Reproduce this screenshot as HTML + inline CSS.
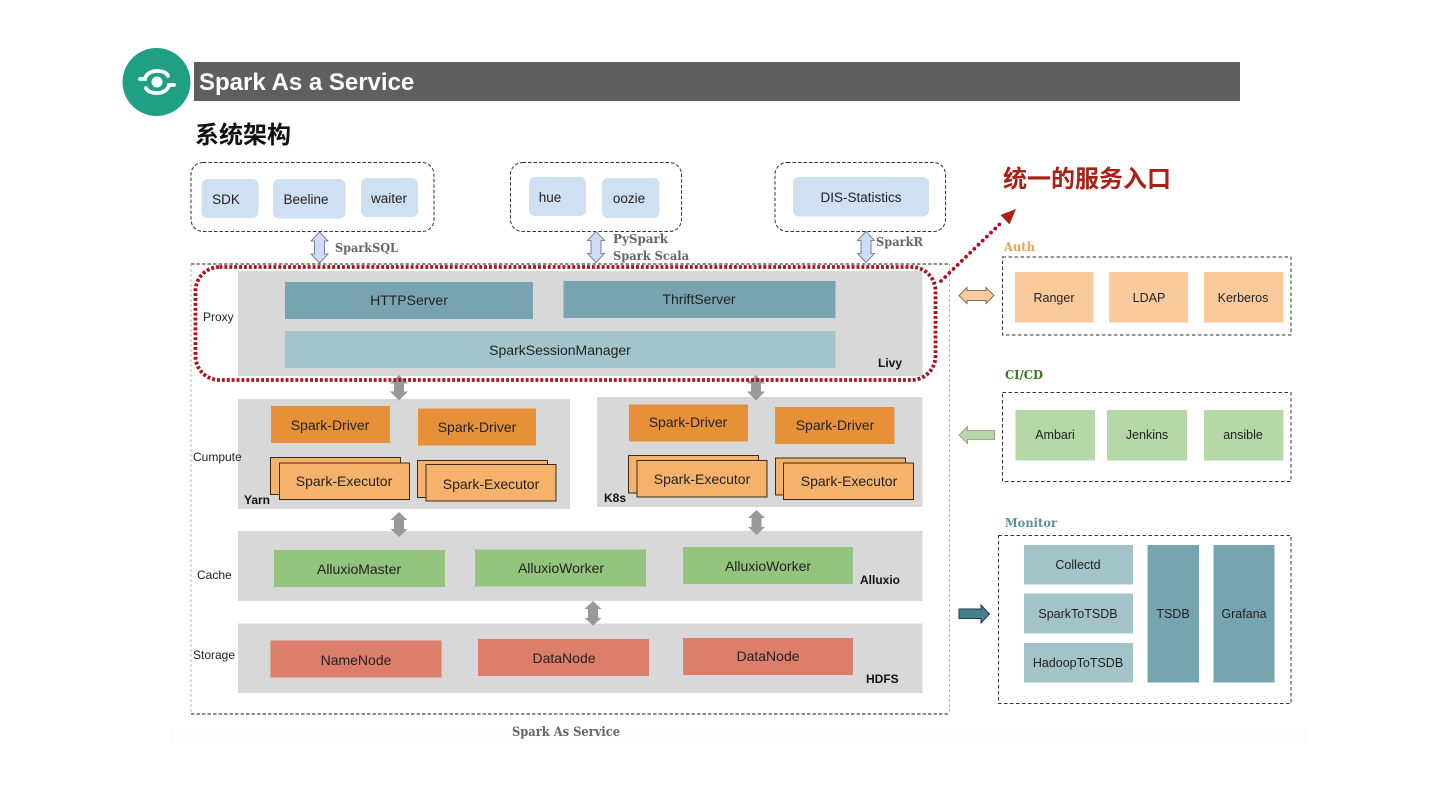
<!DOCTYPE html>
<html><head><meta charset="utf-8"><style>
html,body{margin:0;padding:0;background:#fff;width:1440px;height:810px;overflow:hidden}
svg{display:block;filter:blur(.3px)}
text{font-family:"Liberation Sans","Noto Sans CJK SC",sans-serif;fill:#222;text-anchor:middle}
.s{font-size:13.5px}.m{font-size:14px}.xs{font-size:12.5px}
.l{font-size:12px;text-anchor:start}
.b{font-size:12px;font-weight:bold;text-anchor:start;fill:#111}
.sl{font-family:"DejaVu Serif","Liberation Serif",serif;font-weight:bold;font-size:12.5px;text-anchor:start;fill:#666}
</style></head><body>
<svg width="1440" height="810" viewBox="0 0 1440 810" xmlns="http://www.w3.org/2000/svg">
<rect x="170" y="726" width="1138" height="20" fill="#fdfdfd"/>
<rect x="194" y="62" width="1046" height="39" fill="#5f5f5f"/>
<circle cx="156.500" cy="82" r="34" fill="#1fa085"/>
<circle cx="157" cy="82" r="5.500" fill="#fff"/>
<path d="M140 79h5c1-5 6-8 12-8s10 2 11 5M174 85h-5c-1 5-6 8-12 8s-10-2-11-5" fill="none" stroke="#fff" stroke-width="3.800" stroke-linecap="round"/>
<text x="199" y="90" style="font-size:24px;font-weight:bold;fill:#fff;text-anchor:start">Spark As a Service</text>
<text x="195" y="143" style="font-size:24px;font-weight:bold;fill:#111;text-anchor:start">系统架构</text>

<g fill="none" stroke="#333" stroke-width="1" stroke-dasharray="3.500 2">
<rect x="191" y="162.500" width="243" height="69" rx="12"/>
<rect x="510.500" y="162.500" width="171" height="69" rx="12"/>
<rect x="775" y="162.500" width="170.500" height="69" rx="12"/>
</g>
<g fill="#cfe0f3">
<rect x="201.500" y="179" width="57" height="39" rx="6"/>
<rect x="273" y="179" width="72.500" height="39.500" rx="6"/>
<rect x="361" y="178" width="57" height="39" rx="6"/>
<rect x="529" y="177" width="57" height="39" rx="6"/>
<rect x="602" y="178" width="57.500" height="40" rx="6"/>
<rect x="793" y="177" width="136" height="39.500" rx="6"/>
</g>
<text class="s" x="226" y="204">SDK</text>
<text class="s" x="306" y="204">Beeline</text>
<text class="s" x="389" y="203">waiter</text>
<text class="s" x="550" y="202">hue</text>
<text class="s" x="629" y="203">oozie</text>
<text class="s" x="861" y="202">DIS-Statistics</text>

<g fill="#cfdcf3" stroke="#5c6b85" stroke-width="0.800">
<path d="M319.500 232l8.500 9h-3.500v13h3.500l-8.500 9-8.500-9h3.500v-13h-3.500z"/>
<path d="M596 231.500l8.500 9h-3.500v13h3.500l-8.500 9-8.500-9h3.500v-13h-3.500z"/>
<path d="M866 231.500l8.500 9h-3.500v13h3.500l-8.500 9-8.500-9h3.500v-13h-3.500z"/>
</g>
<text class="sl" x="335" y="252" textLength="63" lengthAdjust="spacingAndGlyphs">SparkSQL</text>
<text class="sl" x="613" y="243" textLength="55" lengthAdjust="spacingAndGlyphs">PySpark</text>
<text class="sl" x="613" y="260" textLength="76" lengthAdjust="spacingAndGlyphs">Spark Scala</text>
<text class="sl" x="876" y="246" textLength="47" lengthAdjust="spacingAndGlyphs">SparkR</text>

<g fill="#d8d8d8">
<rect x="238" y="271" width="684.500" height="105"/>
<rect x="238" y="399" width="332" height="110"/>
<rect x="597" y="397" width="325.500" height="110"/>
<rect x="238" y="531" width="684.500" height="70"/>
<rect x="238" y="623.500" width="684.500" height="69.500"/>
</g>
<path d="M191 264H949M191 714H949" stroke="#222" stroke-width="1" stroke-dasharray="3.500 2" fill="none"/>
<path d="M191 264V714M949.500 264V714" stroke="#bbb" stroke-width="1" stroke-dasharray="3 2" fill="none"/>

<rect x="285" y="282" width="248" height="37" fill="#78a4b1"/>
<rect x="563.500" y="281" width="272" height="37" fill="#78a4b1"/>
<rect x="285" y="331" width="550.500" height="37" fill="#a2c4ca"/>
<text class="m" x="409" y="305">HTTPServer</text>
<text class="m" x="699" y="304">ThriftServer</text>
<text class="m" x="560" y="355">SparkSessionManager</text>
<text class="l" x="203" y="321">Proxy</text>
<text class="b" x="878" y="367">Livy</text>

<g fill="#e69138">
<rect x="271" y="406" width="119" height="37"/>
<rect x="418" y="408.500" width="118" height="37"/>
<rect x="629" y="404.500" width="119" height="37"/>
<rect x="775" y="407" width="119.500" height="37"/>
</g>
<g fill="#f6b26b" stroke="#3a2c1a" stroke-width="1">
<rect x="270.500" y="457.500" width="130" height="37"/>
<rect x="279.500" y="463" width="130" height="36.500"/>
<rect x="417.500" y="460.500" width="130" height="37"/>
<rect x="426" y="464.500" width="130" height="36.500"/>
<rect x="628.500" y="455.500" width="130" height="37.500"/>
<rect x="637" y="460.500" width="130" height="36.500"/>
<rect x="775.500" y="458" width="130" height="37"/>
<rect x="783.500" y="463" width="130" height="36.500"/>
</g>
<text class="m" x="330" y="430">Spark-Driver</text>
<text class="m" x="477" y="432">Spark-Driver</text>
<text class="m" x="688" y="427">Spark-Driver</text>
<text class="m" x="835" y="430">Spark-Driver</text>
<text class="m" x="344" y="486">Spark-Executor</text>
<text class="m" x="491" y="489">Spark-Executor</text>
<text class="m" x="702" y="484">Spark-Executor</text>
<text class="m" x="849" y="486">Spark-Executor</text>
<text class="l" x="193" y="461">Cumpute</text>
<text class="b" x="244" y="504">Yarn</text>
<text class="b" x="604" y="502">K8s</text>

<g fill="#93c47d">
<rect x="274" y="550" width="171" height="37"/>
<rect x="475" y="549.500" width="171" height="37"/>
<rect x="683" y="547" width="170" height="37"/>
</g>
<text class="m" x="359" y="574">AlluxioMaster</text>
<text class="m" x="561" y="573">AlluxioWorker</text>
<text class="m" x="768" y="571">AlluxioWorker</text>
<text class="l" x="197" y="579">Cache</text>
<text class="b" x="860" y="584">Alluxio</text>

<g fill="#dd7e6b">
<rect x="270.500" y="640.500" width="171" height="37"/>
<rect x="478" y="639" width="171" height="37"/>
<rect x="683" y="638" width="170" height="37"/>
</g>
<text class="m" x="356" y="665">NameNode</text>
<text class="m" x="564" y="663">DataNode</text>
<text class="m" x="768" y="661">DataNode</text>
<text class="l" x="193" y="659">Storage</text>
<text class="b" x="866" y="683">HDFS</text>

<g fill="#999">
<path d="M399 375l9 8.500h-4v8h4l-9 9-9-9h4v-8h-4z"/>
<path d="M756 375l9 8.500h-4v8h4l-9 9-9-9h4v-8h-4z"/>
<path d="M399 512l8.500 8h-3.500v9h3.500l-8.500 8-8.500-8h3.500v-9h-3.500z"/>
<path d="M756.500 510l8.500 8h-3.500v9h3.500l-8.500 8-8.500-8h3.500v-9h-3.500z"/>
<path d="M593 601l8.500 8h-3.500v9h3.500l-8.500 7.500-8.500-7.500h3.500v-9h-3.500z"/>
</g>

<rect x="195.500" y="267" width="740" height="113" rx="24" fill="none" stroke="#b0121c" stroke-width="3.800" stroke-dasharray="2.900 2"/>
<path d="M941 281L1003 221" fill="none" stroke="#b0121c" stroke-width="3.800" stroke-linecap="round" stroke-dasharray="0 5.800"/>
<path d="M1016 209l-6.500 15.500-9-9.500z" fill="#b01d12"/>
<text x="1003" y="187" style="font-size:24px;font-weight:bold;fill:#a82016;text-anchor:start">统一的服务入口</text>

<text class="sl" x="1004" y="251" style="fill:#e8a458" textLength="31" lengthAdjust="spacingAndGlyphs">Auth</text>
<text class="sl" x="1005" y="379" style="fill:#38761d" textLength="38" lengthAdjust="spacingAndGlyphs">CI/CD</text>
<text class="sl" x="1005" y="527" style="fill:#5b8fa0" textLength="52" lengthAdjust="spacingAndGlyphs">Monitor</text>

<g fill="none" stroke="#333" stroke-width="1" stroke-dasharray="3.500 2.500">
<rect x="1002.500" y="257" width="288.500" height="78"/>
<rect x="1002.500" y="392.500" width="288.500" height="89"/>
<rect x="998.500" y="535.500" width="292.500" height="168"/>
</g>
<g fill="#f9cb9c">
<rect x="1015" y="272" width="78.500" height="50.500"/>
<rect x="1109" y="272" width="79" height="50.500"/>
<rect x="1204" y="272" width="79.500" height="50.500"/>
</g>
<text class="xs" x="1054" y="302">Ranger</text>
<text class="xs" x="1149" y="302">LDAP</text>
<text class="xs" x="1243" y="302">Kerberos</text>
<g fill="#b6d7a8">
<rect x="1015.500" y="410" width="79.500" height="50.500"/>
<rect x="1107" y="410" width="80" height="50.500"/>
<rect x="1204" y="410" width="79.500" height="50.500"/>
</g>
<text class="xs" x="1055" y="439">Ambari</text>
<text class="xs" x="1147" y="439">Jenkins</text>
<text class="xs" x="1243" y="439">ansible</text>
<g fill="#a2c4c9">
<rect x="1024" y="545" width="109" height="39.500"/>
<rect x="1024" y="593.500" width="109" height="40"/>
<rect x="1024" y="643" width="109" height="39.500"/>
</g>
<g fill="#76a5af">
<rect x="1147.500" y="545" width="51.500" height="137.500"/>
<rect x="1213.500" y="545" width="61" height="137.500"/>
</g>
<text class="xs" x="1078" y="569">Collectd</text>
<text class="xs" x="1078" y="618">SparkToTSDB</text>
<text class="xs" x="1078" y="667">HadoopToTSDB</text>
<text class="xs" x="1173" y="618">TSDB</text>
<text class="xs" x="1244" y="618">Grafana</text>

<path d="M959 295.500l8-8v3h19v-3l8 8-8 8v-3h-19v3z" fill="#f9cb9c" stroke="#5f4a32" stroke-width="0.800"/>
<path d="M959 435l8.500-8.500v4h27v9h-27v4z" fill="#b6d7a8" stroke="#7d9a70" stroke-width="0.800"/>
<path d="M959 609h22v-4l8.500 9-8.500 9v-4.500h-22z" fill="#45818e" stroke="#1d3a42" stroke-width="1"/>

<text class="sl" x="512" y="736" textLength="108" lengthAdjust="spacingAndGlyphs" style="font-size:13px">Spark As Service</text>
</svg>
</body></html>
